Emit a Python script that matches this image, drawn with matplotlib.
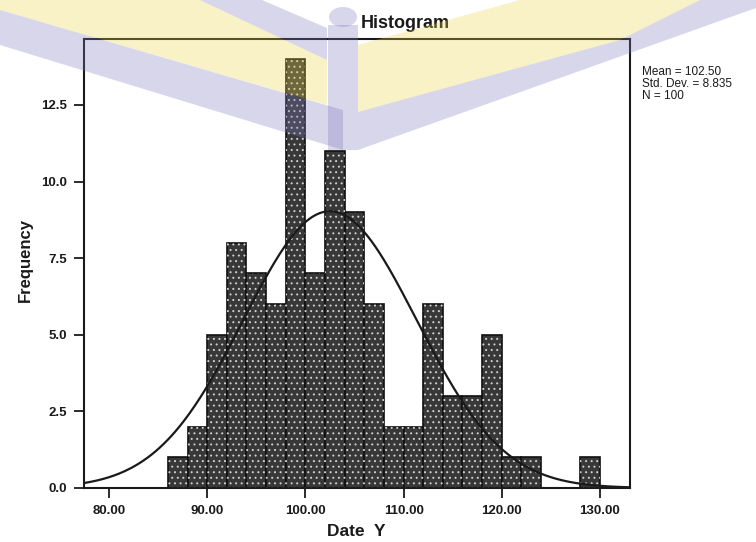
import numpy as np
import matplotlib
matplotlib.use("Agg")
import matplotlib.pyplot as plt
from matplotlib.patches import Polygon, Circle, Rectangle

# Frequency table of "Date Y" (bins of width 2)
bin_left = [86, 88, 90, 92, 94, 96, 98, 100, 102, 104, 106,
            108, 110, 112, 114, 116, 118, 120, 122, 124, 126, 128]
counts = [1, 2, 5, 8, 7, 6, 14, 7, 11, 9, 6,
          2, 2, 6, 3, 3, 5, 1, 1, 0, 0, 1]
bin_width = 2

# Summary statistics
mean_val = 102.50
std_val = 8.835
n_val = 100

x_ticks = [80, 90, 100, 110, 120, 130]
y_ticks = [0.0, 2.5, 5.0, 7.5, 10.0, 12.5]

W, H = 756, 542
FONT = "Liberation Sans"

fig = plt.figure(figsize=(W / 100, H / 100), dpi=100)
fig.patch.set_facecolor("white")


def px(x, y):
    """Pixel position (origin top-left) to figure fraction."""
    return (x / W, 1 - y / H)


ax = fig.add_axes([84 / W, 54 / H, 546 / W, 449 / H])
ax.set_xlim(77.45, 133.06)
ax.set_ylim(0, 14.65)

# Histogram bars with a speckled fill
ax.bar(bin_left, counts, width=bin_width, align="edge",
       color="#383838", edgecolor="#111111", linewidth=1.2, zorder=2)
plt.rcParams["hatch.linewidth"] = 0.7
ax.bar(bin_left, counts, width=bin_width, align="edge",
       fill=False, hatch="...", edgecolor="#cfcfcf", linewidth=0, zorder=3)

# Normal curve scaled to the histogram
xs = np.linspace(77.45, 133.06, 400)
ys = n_val * bin_width / (std_val * np.sqrt(2 * np.pi)) * \
    np.exp(-0.5 * ((xs - mean_val) / std_val) ** 2)
ax.plot(xs, ys, color="#1a1a1a", linewidth=1.6, zorder=4)

ax.set_xticks(x_ticks)
ax.set_xticklabels([f"{v:.2f}" for v in x_ticks])
ax.set_yticks(y_ticks)
ax.set_yticklabels([f"{v:.1f}" for v in y_ticks])
ax.tick_params(direction="out", length=7, width=1.3, color="#1a1a1a", pad=5)
for lab in ax.get_xticklabels() + ax.get_yticklabels():
    lab.set_fontfamily(FONT)
    lab.set_fontweight("bold")
    lab.set_fontsize(9.5)
    lab.set_color("#1a1a1a")
for sp in ax.spines.values():
    sp.set_linewidth(1.5)
    sp.set_color("#1a1a1a")

fig.text(*px(25, 260), "Frequency", rotation=90, ha="center", va="center",
         fontfamily=FONT, fontweight="bold", fontsize=12, color="#1a1a1a")
fig.text(*px(356, 531), "Date  Y", ha="center", va="center",
         fontfamily=FONT, fontweight="bold", fontsize=12.5, color="#1a1a1a")
fig.text(*px(405, 24), "Histogram", ha="center", va="center",
         fontfamily=FONT, fontweight="bold", fontsize=13, color="#1a1a1a")
fig.text(*px(642, 66),
         f"Mean = {mean_val:.2f}\nStd. Dev. = {std_val:.3f}\nN = {n_val}",
         ha="left", va="top", fontfamily=FONT, fontsize=8.5,
         linespacing=1.0, color="#1a1a1a")

# Translucent logo drawn over the whole page
lav = "#7e79bd"
yel = "#e8d445"
alpha = 0.3
shapes = [
    (Polygon([px(0, 0), px(200, 0), px(327, 60), px(327, 105), px(0, 10)]), yel),
    (Polygon([px(200, 0), px(262, 0), px(327, 28), px(327, 60)]), lav),
    (Polygon([px(0, 10), px(343, 110), px(343, 150), px(0, 45)]), lav),
    (Polygon([px(358, 112), px(358, 45), px(520, 0), px(700, 0), px(620, 40)]), yel),
    (Polygon([px(358, 112), px(620, 40), px(700, 0), px(756, 0),
              px(756, 8), px(358, 150)]), lav),
    (Rectangle(px(328, 150), 30 / W, 125 / H), lav),
    (Circle(px(343, 17), 14 / W), lav),
]
for patch, col in shapes:
    patch.set_transform(fig.transFigure)
    patch.set_facecolor(col)
    patch.set_edgecolor("none")
    patch.set_alpha(alpha)
    patch.set_zorder(10)
    fig.add_artist(patch)

fig.savefig("out.png", dpi=100)
